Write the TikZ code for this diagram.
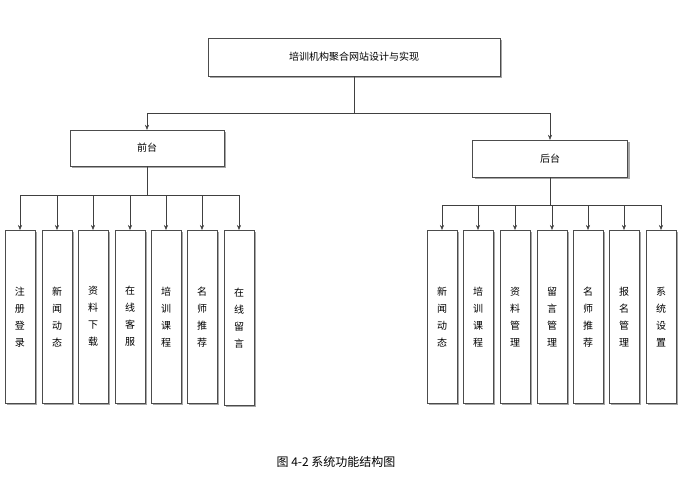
\documentclass[tikz,border=0pt]{standalone}
\usepackage{fontspec}
\setmainfont{Noto Sans CJK SC}
\usetikzlibrary{shadows,arrows.meta}
\begin{document}
\begin{tikzpicture}[x=1pt,y=-1pt,
  box/.style={draw=black!70,fill=white,drop shadow={shadow xshift=2pt,shadow yshift=-2pt,fill=black!35,opacity=1},font=\fontsize{10}{12}\selectfont},
  vbox/.style={box,minimum width=30pt,minimum height=173pt,anchor=north,align=center,font=\fontsize{10}{17}\selectfont},
  arr/.style={draw=black!75,-{Stealth[length=5pt,width=4pt]}},
  ln/.style={draw=black!75}]
\useasboundingbox (0,0) rectangle (686,498);
\node[box,minimum width=292pt,minimum height=38pt] (top) at (354,57) {培训机构聚合网站设计与实现};
\node[box,minimum width=154pt,minimum height=36pt] (fr) at (147,148) {前台};
\node[box,minimum width=155pt,minimum height=37pt] (bk) at (550,158.5) {后台};
\coordinate (t1) at (354,113);
\draw[ln] (top.south) -- (t1);
\draw[arr] (t1) -| (fr.north);
\draw[arr] (t1) -| (bk.north);
\foreach \n/\x/\t in {f1/20/注\\册\\登\\录, f2/57/新\\闻\\动\\态, f3/93/资\\料\\下\\载, f4/130/在\\线\\客\\服, f5/166/培\\训\\课\\程, f6/202/名\\师\\推\\荐}{
  \node[vbox] (\n) at (\x,230) {\t};
  \draw[arr] (\x,195) -- (\n.north);
}
\node[vbox,minimum height=175pt] (f7) at (239,230) {在\\线\\留\\言};
\draw[arr] (239,195) -- (f7.north);
\draw[ln] (20,195) -- (239,195);
\draw[ln] (fr.south) -- (147,195);
\foreach \n/\x/\t in {b1/442/新\\闻\\动\\态, b2/478/培\\训\\课\\程, b3/515/资\\料\\管\\理, b4/552/留\\言\\管\\理, b5/588/名\\师\\推\\荐, b6/624/报\\名\\管\\理, b7/661/系\\统\\设\\置}{
  \node[vbox] (\n) at (\x,230) {\t};
  \draw[arr] (\x,205) -- (\n.north);
}
\draw[ln] (442,205) -- (661,205);
\draw[ln] (bk.south) -- (550,205);
\node[font=\fontsize{12}{14}\selectfont] (cap) at (336,462) {图 4-2 系统功能结构图};
\end{tikzpicture}
\end{document}
